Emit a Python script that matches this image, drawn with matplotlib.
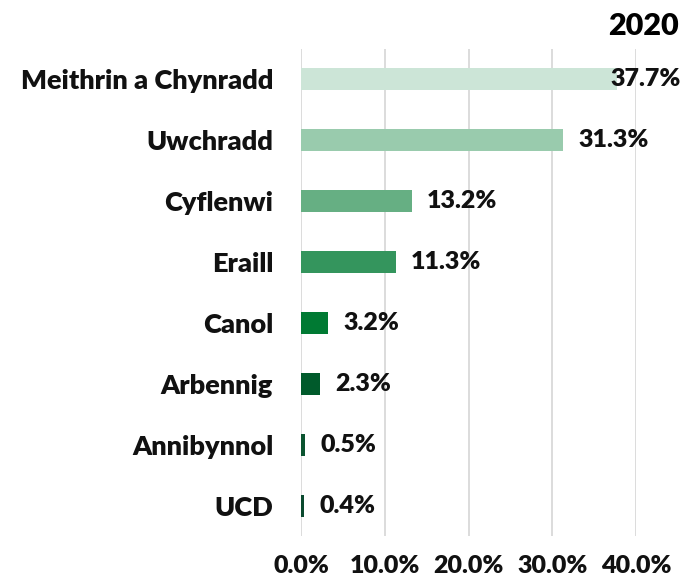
import matplotlib
matplotlib.use("Agg")
import matplotlib.pyplot as plt
from matplotlib.ticker import FuncFormatter

categories = ["Meithrin a Chynradd", "Uwchradd", "Cyflenwi", "Eraill", "Canol",
              "Arbennig", "Annibynnol", "UCD"]
values = [37.7, 31.3, 13.2, 11.3, 3.2, 2.3, 0.5, 0.4]
colors = ["#CCE5D7", "#99CBAD", "#66AF83", "#34955D", "#007A33", "#005A2B",
          "#0B5430", "#0B4A2F"]
xticks = [0, 10, 20, 30, 40]
title = "2020"

plt.rcParams['font.family'] = ['Lato', 'DejaVu Sans']
plt.rcParams['font.weight'] = 'heavy'

fig = plt.figure(figsize=(6.85, 5.84), dpi=100)
ax = fig.add_axes([301/685, 1-536/584, (636-301)/685, (536-49)/584])

y = list(range(len(categories)))
ax.barh(y, values, height=0.36, color=colors, zorder=3)
ax.set_ylim(7.5, -0.5)
ax.set_xlim(0, 40)
ax.set_xticks(xticks)
ax.xaxis.set_major_formatter(FuncFormatter(lambda v, p: f"{v:.1f}%"))
ax.set_yticks(y)
ax.set_yticklabels(categories)
ax.tick_params(axis='y', length=0, pad=20, labelsize=19.5)
ax.tick_params(axis='x', length=0, pad=14, labelsize=18)
for lab in ax.get_xticklabels() + ax.get_yticklabels():
    lab.set_fontweight('heavy')
    lab.set_color('#111111')
ax.grid(axis='x', color='#D9D9D9', linewidth=1.3, zorder=0)
for s in ax.spines.values():
    s.set_visible(False)

fig.canvas.draw()
renderer = fig.canvas.get_renderer()
for yi, v in zip(y, values):
    t = ax.annotate(f"{v:.1f}%", xy=(v, yi), xytext=(11, 0), textcoords='offset points',
                    va='center', ha='left', fontsize=18, fontweight='heavy', color='#111111', zorder=4)
    bb = t.get_window_extent(renderer)
    if bb.x1 > 682:
        t.remove()
        ax.annotate(f"{v:.1f}%", xy=(v, yi), xycoords='data',
                    xytext=(681/685, 0), textcoords=('figure fraction', 'offset points'),
                    va='center', ha='right', fontsize=18, fontweight='heavy', color='#111111', zorder=4)

fig.text(679/685, 1-26/584, title, ha='right', va='center', fontsize=22, fontweight='heavy')

fig.savefig("out.png", dpi=100)
